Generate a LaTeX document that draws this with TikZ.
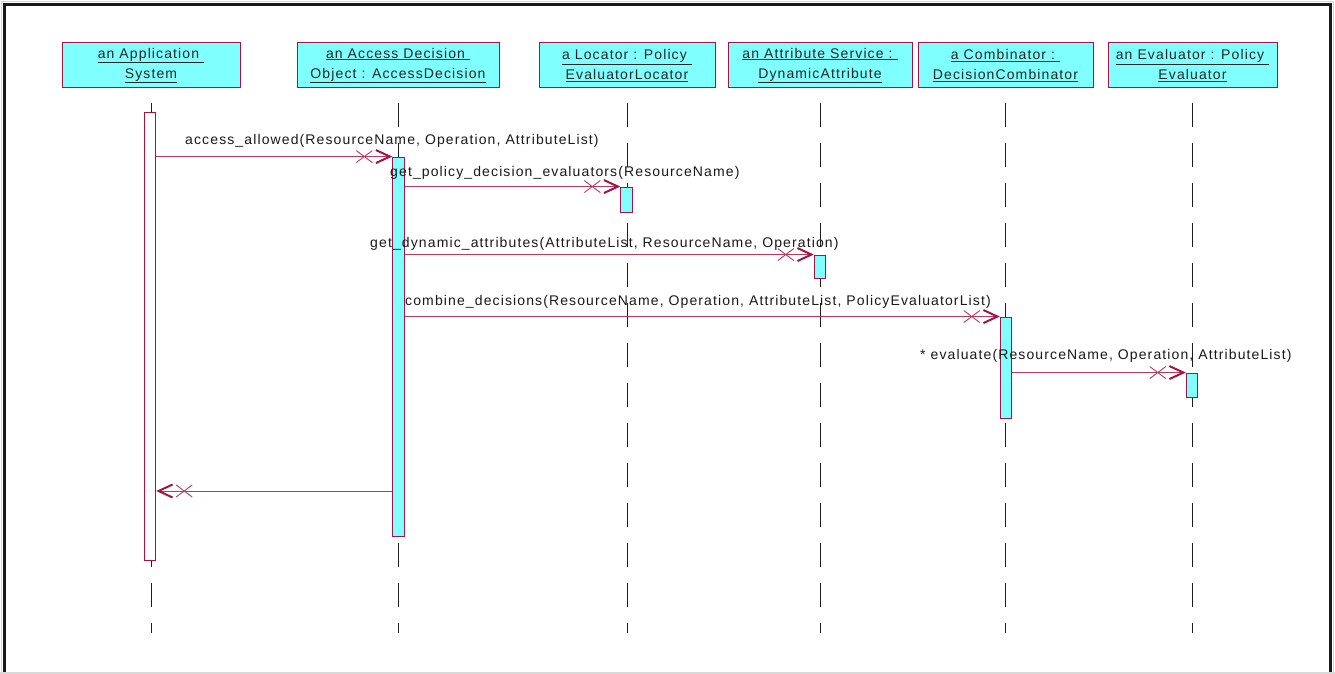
\documentclass[tikz,border=0pt]{standalone}
\usepackage{fontspec}
\setmainfont{Liberation Sans}[LetterSpace=8]
\usetikzlibrary{arrows.meta,decorations.markings}

\definecolor{headfill}{RGB}{128,255,255}
\definecolor{umlred}{RGB}{160,20,70}
\definecolor{msgred}{RGB}{178,60,100}
\definecolor{lifegray}{RGB}{30,30,30}

\tikzset{
  head/.style={draw=umlred, line width=1pt, fill=headfill, minimum width=#1,
    minimum height=45pt, align=center, inner sep=0pt,
    font=\fontsize{14}{20}\selectfont, text=black!85},
  act/.style={draw=umlred, line width=0.9pt, fill=headfill, minimum width=11.5pt,
    minimum height=#1, inner sep=0pt},
  life/.style={draw=lifegray, line width=1pt, dash pattern=on 24pt off 16pt},
  msg/.style={draw=msgred, line width=1pt,
    -{Straight Barb[length=14pt,width=13pt,line width=2pt,color=umlred]},
    postaction={decorate},
    decoration={markings, mark=at position -28pt with {
      \draw[-, msgred, line width=0.9pt] (-8pt,-6pt) -- (8pt,6pt) (-8pt,6pt) -- (8pt,-6pt);}}},
  lbl/.style={anchor=base west, inner sep=0pt, font=\fontsize{14}{16}\selectfont, text=black!90}
}

\begin{document}
\begin{tikzpicture}[x=1pt, y=-1pt]
  \useasboundingbox (0,0) rectangle (1335,674);
  % page frame
  \draw[gray!35, line width=1.5pt] (1.5,674) -- (1.5,1.5) -- (1333.5,1.5) -- (1333.5,674);
  \draw[black!90, line width=2.2pt] (4.5,674) -- (4.5,4.5) -- (1330.5,4.5) -- (1330.5,674);
  \draw[gray!30, line width=1.5pt] (0,673) -- (1335,673);

  % object headers
  \node[head=178pt] (h1) at (151,65.5) {\underline{an Application\ }\\\underline{System}};
  \node[head=202pt] (h2) at (398,65.5) {\underline{an Access Decision\ }\\\underline{Object : AccessDecision}};
  \node[head=176pt] (h3) at (627,65.5) {\underline{a Locator : Policy\ }\\\underline{EvaluatorLocator}};
  \node[head=184pt] (h4) at (820,65.5) {\underline{an Attribute Service :\ }\\\underline{DynamicAttribute}};
  \node[head=175pt] (h5) at (1005.5,65.5) {\underline{a Combinator :\ }\\\underline{DecisionCombinator}};
  \node[head=169pt] (h6) at (1192.5,65.5) {\underline{an Evaluator : Policy\ }\\\underline{Evaluator}};

  % lifelines
  \draw[life] (h1.south |- 0,103) -- (h1.south |- 0,633);
  \draw[life] (h2.south |- 0,103) -- (h2.south |- 0,633);
  \draw[life] (h3.south |- 0,103) -- (h3.south |- 0,633);
  \draw[life] (h4.south |- 0,103) -- (h4.south |- 0,633);
  \draw[life] (h5.south |- 0,103) -- (h5.south |- 0,633);
  \draw[life] (h6.south |- 0,103) -- (h6.south |- 0,633);

  % activations
  \node[act=448pt, fill=white] (a1) at (150,336) {};
  \node[act=379pt] (a2) at (398.5,346.5) {};
  \node[act=25pt] (a3) at (626.5,199.5) {};
  \node[act=23pt] (a4) at (820,266.5) {};
  \node[act=101pt] (a5) at (1006,367.5) {};
  \node[act=24pt] (a6) at (1192,385) {};

  % messages
  \draw[msg] (a1.east |- a2.north) -- (a2.north west);
  \draw[msg] (a2.east |- a3.north) -- (a3.north west);
  \draw[msg] (a2.east |- a4.north) -- (a4.north west);
  \draw[msg] (a2.east |- a5.north) -- (a5.north west);
  \draw[msg] (a5.east |- a6.north) -- (a6.north west);
  \coordinate (ret) at (a2.west |- 0,491);
  \draw[msg] (ret) -- (a1.east |- ret);

  % message labels
  \node[lbl] (l1) at (185,145) {access\_allowed(ResourceName, Operation, AttributeList)};
  \node[lbl] (l2) at (390,176) {get\_policy\_decision\_evaluators(ResourceName)};
  \node[lbl] (l3) at (370,247) {get\_dynamic\_attributes(AttributeList, ResourceName, Operation)};
  \node[lbl] (l4) at (405,305) {combine\_decisions(ResourceName, Operation, AttributeList, PolicyEvaluatorList)};
  \node[lbl] (l5) at (920,359) {* evaluate(ResourceName, Operation, AttributeList)};
\end{tikzpicture}
\end{document}
